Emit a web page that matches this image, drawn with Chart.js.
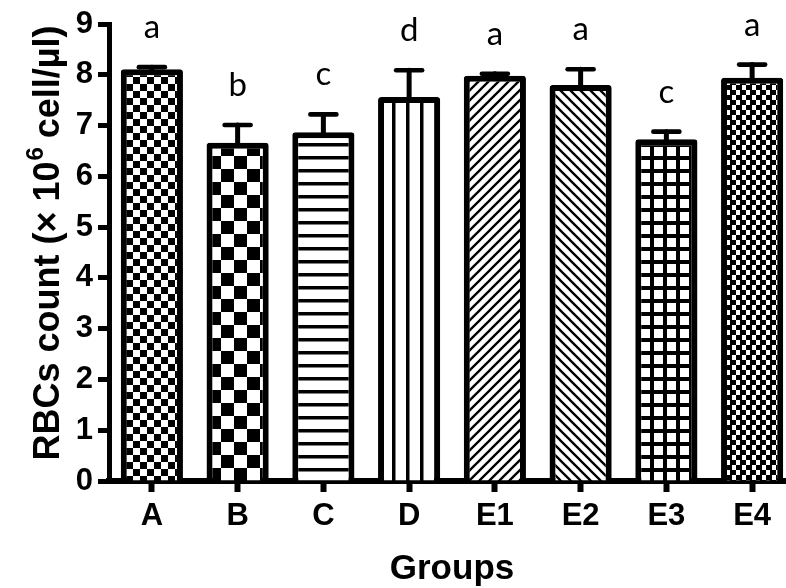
<!DOCTYPE html>
<html>
<head>
<meta charset="utf-8">
<script src="https://cdn.jsdelivr.net/npm/chart.js@4/dist/chart.umd.min.js"></script>
<style>
  html, body { margin: 0; padding: 0; background: #fff; overflow: hidden; width: 786px; height: 588px; }
  #wrap { width: 786px; height: 588px; position: relative; overflow: hidden; }
  #c { position: absolute; left: 0; top: 0; }
</style>
</head>
<body>
<div id="wrap"><canvas id="c" width="795" height="588" style="width:795px;height:588px"></canvas></div>
<script>
const groups = ['A', 'B', 'C', 'D', 'E1', 'E2', 'E3', 'E4'];
const means = [8.11, 6.66, 6.87, 7.56, 7.98, 7.80, 6.73, 7.94];
const errors = [0.04, 0.35, 0.35, 0.53, 0.04, 0.31, 0.15, 0.26];
const letters = ['a', 'b', 'c', 'd', 'a', 'a', 'c', 'a'];
const yTicks = [0, 1, 2, 3, 4, 5, 6, 7, 8, 9];

const canvas = document.getElementById('c');
const ctx = canvas.getContext('2d');

function makePattern(w, h, draw) {
  const c = document.createElement('canvas');
  c.width = w; c.height = h;
  const g = c.getContext('2d');
  g.fillStyle = '#fff'; g.fillRect(0, 0, w, h);
  g.fillStyle = '#000'; g.strokeStyle = '#000';
  draw(g, w, h);
  return ctx.createPattern(c, 'repeat');
}

const patterns = [
  // A: small checkerboard
  makePattern(14, 14, g => { g.fillRect(0, 0, 7, 7); g.fillRect(7, 7, 7, 7); }),
  // B: large checkerboard
  makePattern(26, 26, g => { g.fillRect(0, 0, 13, 13); g.fillRect(13, 13, 13, 13); }),
  // C: horizontal lines
  makePattern(8, 13, g => { g.fillRect(0, 0, 8, 3.5); }),
  // D: vertical lines
  makePattern(14, 8, g => { g.fillRect(0, 0, 3.5, 8); }),
  // E1: forward diagonal
  makePattern(10, 10, g => {
    g.lineWidth = 2.3;
    g.beginPath();
    g.moveTo(-2, 12); g.lineTo(12, -2);
    g.moveTo(-2, 2); g.lineTo(2, -2);
    g.moveTo(8, 12); g.lineTo(12, 8);
    g.stroke();
  }),
  // E2: back diagonal
  makePattern(10, 10, g => {
    g.lineWidth = 2.3;
    g.beginPath();
    g.moveTo(-2, -2); g.lineTo(12, 12);
    g.moveTo(8, -2); g.lineTo(12, 2);
    g.moveTo(-2, 8); g.lineTo(2, 12);
    g.stroke();
  }),
  // E3: grid
  makePattern(13, 13, g => { g.fillRect(0, 0, 13, 13); g.fillStyle = '#fff'; g.fillRect(4, 4, 9, 9); }),
  // E4: weave
  makePattern(20, 10, g => {
    g.fillRect(0, 0, 6, 5); g.fillRect(10, 0, 6, 5);
    g.fillRect(6, 5, 6, 5); g.fillRect(16, 5, 4, 5); g.fillRect(0, 5, 2, 5);
  })
];

const annot = {
  id: 'annot',
  afterDatasetsDraw(chart) {
    const c = chart.ctx;
    const xs = chart.scales.x, ys = chart.scales.y;
    c.save();
    c.strokeStyle = '#000';
    c.lineCap = 'round';
    means.forEach((m, i) => {
      const x = xs.getPixelForValue(i);
      const yb = ys.getPixelForValue(m);
      const yt = ys.getPixelForValue(m + errors[i]);
      c.lineWidth = 5;
      c.beginPath(); c.moveTo(x, yb); c.lineTo(x, yt); c.stroke();
      c.lineWidth = 4.6;
      c.beginPath(); c.moveTo(x - 13, yt); c.lineTo(x + 13, yt); c.stroke();
      c.fillStyle = '#000';
      c.font = '33px Lato, "Open Sans", sans-serif';
      c.textAlign = 'center';
      c.textBaseline = 'alphabetic';
      c.fillText(letters[i], x, yt - 29);
    });
    c.restore();
  },
  afterDraw(chart) {
    const c = chart.ctx;
    c.save();
    c.fillStyle = '#000';
    const big = 'bold 36px "Liberation Sans", Arial, sans-serif';
    const small = 'bold 24px "Liberation Sans", Arial, sans-serif';
    const p1 = 'RBCs count (\u00d7 10', p2 = '6', p3 = ' cell/\u00b5l)';
    c.font = big; const w1 = c.measureText(p1).width, w3 = c.measureText(p3).width;
    c.font = small; const w2 = c.measureText(p2).width;
    const total = w1 + w2 + w3;
    c.translate(46, 243);
    c.rotate(-Math.PI / 2);
    c.textBaseline = 'alphabetic';
    c.textAlign = 'left';
    const x0 = -total / 2;
    const base = 13;
    c.font = big; c.fillText(p1, x0, base);
    c.font = small; c.fillText(p2, x0 + w1 + 1, base - 16);
    c.font = big; c.fillText(p3, x0 + w1 + w2, base);
    c.restore();
  }
};

new Chart(ctx, {
  type: 'bar',
  data: {
    labels: groups,
    datasets: [{
      data: means,
      backgroundColor: patterns,
      borderColor: '#000',
      borderWidth: 6,
      borderRadius: 3,
      borderSkipped: 'start',
      barPercentage: 0.725,
      categoryPercentage: 1.0
    }]
  },
  options: {
    responsive: false,
    animation: false,
    devicePixelRatio: 1,
    layout: { padding: { left: 0, right: 0, top: 24, bottom: 0 } },
    plugins: { legend: { display: false }, tooltip: { enabled: false } },
    scales: {
      x: {
        z: 1,
        grid: { display: true, drawOnChartArea: false, offset: false, tickLength: 11, tickWidth: 6, tickColor: '#000' },
        border: { display: true, color: '#000', width: 6 },
        ticks: { color: '#000', padding: 6, font: { family: '"Liberation Sans", Arial, sans-serif', size: 31, weight: 'bold' } },
        title: { display: true, text: 'Groups', color: '#000', padding: { top: 4, bottom: 1 }, align: 'center',
                 font: { family: '"Liberation Sans", Arial, sans-serif', size: 35, weight: 'bold', lineHeight: 1 } },
        afterFit(s) { s.height = 107; }
      },
      y: {
        z: 1,
        min: 0, max: 9,
        afterBuildTicks(s) { s.ticks = yTicks.map(v => ({ value: v })); },
        grid: { display: true, drawOnChartArea: false, tickLength: 11, tickWidth: 5, tickColor: '#000' },
        border: { display: true, color: '#000', width: 5 },
        ticks: { color: '#000', padding: 5, font: { family: '"Liberation Sans", Arial, sans-serif', size: 31, weight: 'bold' } },
        afterFit(s) { s.width = 109; }
      }
    }
  },
  plugins: [annot]
});
</script>
</body>
</html>
